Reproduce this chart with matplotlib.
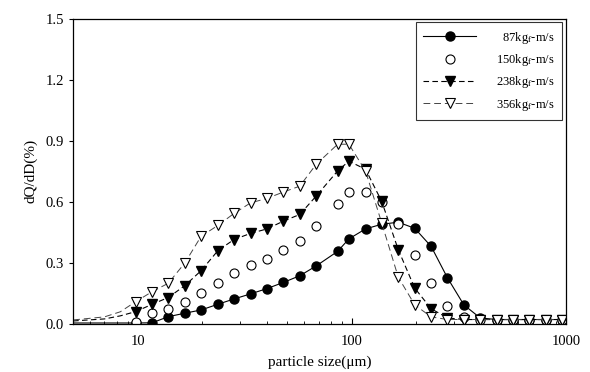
import numpy as np
import matplotlib
matplotlib.use('Agg')
import matplotlib.pyplot as plt
from matplotlib.ticker import FixedLocator, NullFormatter

plt.rcParams['font.family'] = ['Liberation Serif', 'DejaVu Serif']
plt.rcParams['mathtext.fontset'] = 'stix'

# size bins (um); the first three carry only the line, no marker
size_um = [5.0, 7.0, 8.3,
           9.8, 11.7, 13.9, 16.6, 19.8, 23.7, 28.2, 33.7, 40.2, 47.9,
           57.2, 68.2, 86.0, 97.0, 116, 138, 165, 197, 235, 280,
           334, 398, 475, 567, 676, 807, 962]

q_87 = [0.005, 0.005, 0.005,
        0.005, 0.006, 0.036, 0.053, 0.069, 0.097, 0.123, 0.148, 0.174, 0.204,
        0.237, 0.285, 0.357, 0.418, 0.467, 0.490, 0.500, 0.470, 0.381, 0.227,
        0.094, 0.030, 0.022, 0.022, 0.022, 0.022, 0.022]
q_150 = [0.010, 0.010, 0.010,
         0.011, 0.056, 0.075, 0.110, 0.151, 0.201, 0.250, 0.291, 0.319, 0.362,
         0.406, 0.482, 0.587, 0.648, 0.648, 0.600, 0.490, 0.340, 0.203, 0.090,
         0.035, 0.022, 0.022, 0.022, 0.022, 0.022, 0.022]
q_238 = [0.015, 0.025, 0.040,
         0.061, 0.097, 0.130, 0.188, 0.262, 0.360, 0.415, 0.445, 0.467, 0.505,
         0.538, 0.628, 0.752, 0.800, 0.760, 0.603, 0.365, 0.176, 0.075, 0.030,
         0.022, 0.022, 0.022, 0.022, 0.022, 0.022, 0.022]
q_356 = [0.020, 0.035, 0.060,
         0.110, 0.159, 0.200, 0.299, 0.431, 0.484, 0.543, 0.595, 0.617, 0.648,
         0.677, 0.784, 0.883, 0.883, 0.752, 0.497, 0.230, 0.094, 0.035, 0.022,
         0.022, 0.022, 0.022, 0.022, 0.022, 0.022, 0.022]

labels = [r'  87kg$_\mathrm{f}$-m/s', r'150kg$_\mathrm{f}$-m/s',
          r'238kg$_\mathrm{f}$-m/s', r'356kg$_\mathrm{f}$-m/s']

fig = plt.figure(figsize=(5.9, 3.72), dpi=100)
ax = fig.add_axes([0.124, 0.129, 0.835, 0.821])

marks = list(range(3, len(size_um)))

ax.plot(size_um, q_87, '-', color='black', lw=0.8, marker='o', ms=6.5,
        mfc='black', mec='black', markevery=marks, label=labels[0])
ax.plot(np.array(size_um)[marks], np.array(q_150)[marks], 'o', ls='none',
        ms=6.5, mfc='white', mec='black', mew=0.8, label=labels[1])
ax.plot(size_um, q_238, color='black', lw=0.8, ls=(0, (5, 3)), marker='v',
        ms=7, mfc='black', mec='black', markevery=marks, label=labels[2])
ax.plot(size_um, q_356, color='#444444', lw=0.7, ls=(0, (7, 4)), marker='v',
        ms=7, mfc='white', mec='black', mew=0.8, markevery=marks, label=labels[3])

ax.set_xscale('log')
ax.set_xlim(5, 1000)
ax.set_ylim(0, 1.5)
ax.set_yticks([0.0, 0.3, 0.6, 0.9, 1.2, 1.5])
ax.set_yticklabels(['0.0', '0.3', '0.6', '0.9', '1.2', '1.5'])
ax.set_xticks([10, 100, 1000])
ax.set_xticklabels(['10', '100', '1000'])
ax.xaxis.set_minor_locator(FixedLocator(
    [6, 7, 8, 9, 20, 30, 40, 50, 60, 70, 80, 90,
     200, 300, 400, 500, 600, 700, 800, 900]))
ax.xaxis.set_minor_formatter(NullFormatter())

ax.tick_params(axis='x', which='major', direction='in', length=4, width=0.8,
               labelsize=10.5, pad=8)
ax.tick_params(axis='x', which='minor', direction='in', length=2.5, width=0.6)
ax.tick_params(axis='y', direction='out', length=3, width=0.8, labelsize=10.5)
for s in ax.spines.values():
    s.set_linewidth(0.9)

ax.set_xlabel('particle size(μm)', fontsize=11, labelpad=5)
ax.set_ylabel('dQ/dD(%)', fontsize=11, labelpad=6)

leg = ax.legend(loc='upper right', bbox_to_anchor=(1.0, 1.0), fontsize=9,
                frameon=True, fancybox=False, edgecolor='black',
                handlelength=4.2, handletextpad=1.6, borderpad=0.6,
                labelspacing=0.5, borderaxespad=0.3, markerfirst=True)
leg.get_frame().set_linewidth(0.8)

fig.savefig('out.png', dpi=100, facecolor='white')
